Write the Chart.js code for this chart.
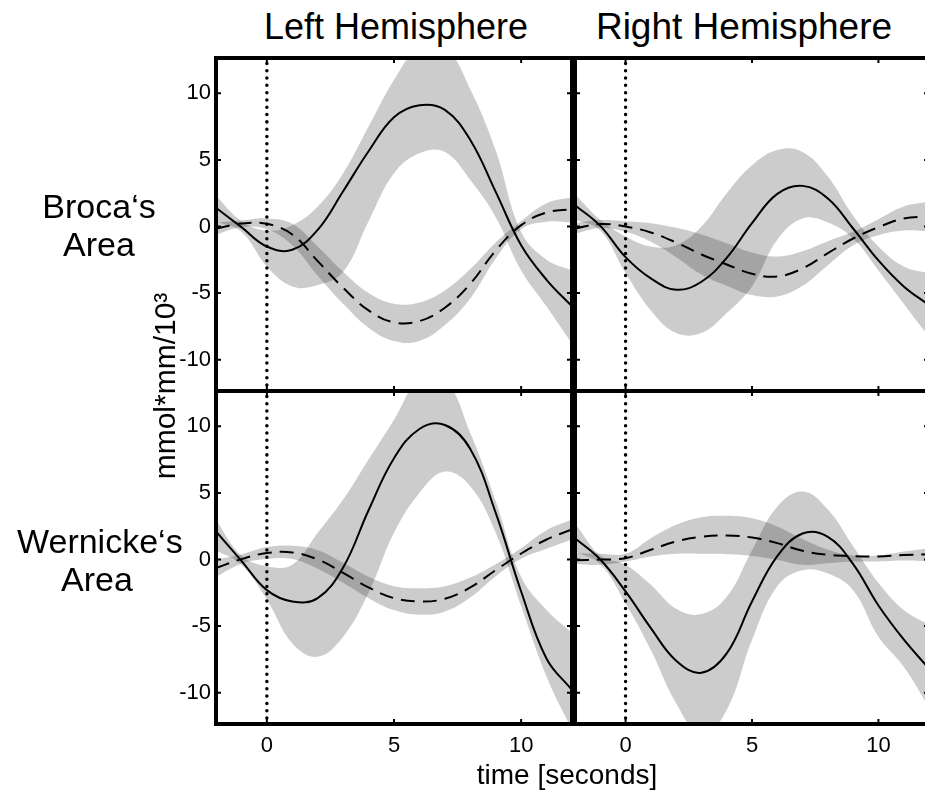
<!DOCTYPE html>
<html>
<head>
<meta charset="utf-8">
<script src="https://cdn.jsdelivr.net/npm/chart.js@4.4.1/dist/chart.umd.min.js"></script>
<style>
html, body { margin: 0; padding: 0; width: 925px; height: 792px; overflow: hidden; background: #fff; }
canvas { position: absolute; }
.txt { position: absolute; font-family: "Liberation Sans", Arial, sans-serif; color: #000; white-space: nowrap; text-align: center; }
</style>
</head>
<body>
<canvas id="brocaLeft" width="441" height="349" style="left:139px;top:50px"></canvas>
<canvas id="brocaRight" width="370" height="349" style="left:567px;top:50px"></canvas>
<canvas id="wernickeLeft" width="441" height="409" style="left:139px;top:383px"></canvas>
<canvas id="wernickeRight" width="370" height="409" style="left:567px;top:383px"></canvas>

<div class="txt" style="left:196px;top:9px;width:400px;font-size:36px;line-height:36px">Left Hemisphere</div>
<div class="txt" style="left:544px;top:9px;width:400px;font-size:37px;line-height:36px">Right Hemisphere</div>
<div class="txt" style="left:19px;top:187px;width:160px;font-size:34px;line-height:38px">Broca‘s<br>Area</div>
<div class="txt" style="left:17px;top:522px;width:160px;font-size:34px;line-height:38px">Wernicke‘s<br>Area</div>
<div class="txt" style="left:15px;top:371px;width:300px;font-size:30px;line-height:30px;transform:rotate(-90deg)">mmol*mm/10³</div>
<div class="txt" style="left:417px;top:761px;width:300px;font-size:28px;line-height:28px">time [seconds]</div>

<script>
// time axis (seconds) and ticks
const times = [-2, -1, 0, 1, 2, 3, 4, 5, 6, 7, 8, 9, 10, 11, 12];
const xTicks = [0, 5, 10];
const yTicks = [-10, -5, 0, 5, 10];
const yMin = -12.35;
const yMax = 12.65;

// Broca, left hemisphere
const brocaLeftSolid = [1.4, -0.05, -1.5, -1.75, -0.25, 2.65, 5.65, 8.2, 9.1, 8.75, 6.5, 2.6, -1.4, -4.0, -6.0];
const brocaLeftSolidLow = [0.4, -0.4, -3.0, -4.5, -4.4, -3.4, 0.4, 4.0, 5.5, 5.6, 3.5, 0.7, -3.3, -6.0, -8.8];
const brocaLeftSolidHigh = [2.3, 0.4, -0.3, 0.1, 1.5, 4.0, 7.5, 11.0, 13.5, 13.5, 10.3, 5.7, -0.4, -2.5, -3.3];
const brocaLeftDashed = [-0.15, 0.22, 0.2, -0.6, -2.6, -4.6, -6.3, -7.2, -7.1, -6.1, -4.3, -1.8, 0.1, 1.05, 1.3];
const brocaLeftDashedLow = [-0.6, -0.05, -0.2, -1.4, -3.7, -5.8, -7.6, -8.6, -8.6, -7.4, -5.4, -2.4, -0.2, 0.35, 0.3];
const brocaLeftDashedHigh = [0.3, 0.45, 0.6, 0.2, -1.5, -3.4, -5.0, -5.8, -5.7, -4.8, -3.2, -1.2, 0.4, 1.75, 2.2];

// Broca, right hemisphere
const brocaRightSolid = [1.6, 0.05, -2.3, -3.9, -4.75, -4.15, -2.35, 0.25, 2.45, 3.05, 2.1, -0.15, -2.55, -4.5, -5.9];
const brocaRightSolidLow = [0.5, -0.3, -3.5, -6.3, -8.0, -8.0, -6.5, -4.5, -1.0, 0.6, 0.3, -0.9, -3.3, -5.8, -8.3];
const brocaRightSolidHigh = [2.4, 0.5, -0.75, -1.5, -1.4, 0.0, 2.5, 4.6, 5.75, 5.6, 3.75, 0.8, -1.5, -3.0, -3.5];
const brocaRightDashed = [-0.15, 0.18, 0.0, -0.45, -1.2, -2.1, -2.85, -3.55, -3.75, -3.15, -2.0, -0.9, -0.05, 0.6, 0.75];
const brocaRightDashedLow = [-0.55, -0.12, -0.4, -1.15, -2.3, -3.6, -4.45, -5.15, -5.25, -4.45, -2.9, -1.4, -0.65, -0.3, -0.35];
const brocaRightDashedHigh = [0.25, 0.48, 0.4, 0.25, -0.1, -0.6, -1.25, -1.95, -2.25, -1.85, -1.1, -0.4, 0.55, 1.5, 1.85];

// Wernicke, left hemisphere
const wernickeLeftSolid = [2.1, -0.1, -2.3, -3.15, -2.9, -0.6, 3.7, 7.6, 9.8, 10.1, 8.3, 3.5, -2.4, -7.45, -9.8];
const wernickeLeftSolidLow = [0.7, -0.4, -3.0, -6.3, -7.3, -5.8, -2.5, 2.0, 5.0, 6.6, 5.5, 2.0, -3.5, -8.8, -12.8];
const wernickeLeftSolidHigh = [2.95, 0.3, -0.5, -0.4, 2.0, 4.5, 7.5, 10.5, 13.5, 13.5, 9.5, 4.4, -1.3, -3.8, -5.5];
const wernickeLeftDashed = [-0.65, 0.03, 0.48, 0.53, 0.0, -1.0, -2.1, -2.9, -3.15, -2.95, -2.1, -0.8, 0.45, 1.5, 2.25];
const wernickeLeftDashedLow = [-1.3, -0.32, 0.03, 0.03, -0.7, -1.75, -2.9, -3.8, -4.15, -3.9, -2.85, -1.25, 0.05, 0.8, 1.5];
const wernickeLeftDashedHigh = [0.0, 0.38, 0.93, 1.03, 0.7, -0.25, -1.3, -2.0, -2.15, -2.0, -1.35, -0.35, 0.85, 2.2, 3.0];

// Wernicke, right hemisphere
const wernickeRightSolid = [1.6, 0.0, -2.4, -5.15, -7.6, -8.5, -7.05, -3.15, 0.25, 1.95, 1.7, -0.35, -3.45, -6.0, -8.2];
const wernickeRightSolidLow = [0.6, -0.35, -3.3, -6.8, -10.8, -13.2, -11.3, -6.05, -2.0, -0.8, -1.05, -2.3, -5.8, -8.05, -11.1];
const wernickeRightSolidHigh = [2.73, 0.3, -0.4, -1.9, -3.7, -4.1, -2.8, 0.7, 3.98, 5.1, 3.75, 1.0, -1.75, -3.8, -4.9];
const wernickeRightDashed = [-0.05, 0.0, 0.1, 0.73, 1.35, 1.7, 1.8, 1.65, 1.23, 0.65, 0.35, 0.25, 0.23, 0.33, 0.4];
const wernickeRightDashedLow = [-0.33, -0.4, -0.15, 0.23, 0.43, 0.43, 0.4, 0.27, -0.02, -0.4, -0.28, -0.15, -0.15, -0.08, -0.15];
const wernickeRightDashedHigh = [0.48, 0.43, 0.43, 1.6, 2.6, 3.18, 3.28, 3.1, 2.48, 1.53, 0.73, 0.3, 0.3, 0.6, 0.85];

// stimulus onset
const onsetX = [0, 0];
const onsetY = [-13, 13];

const bandColor = 'rgba(0,0,0,0.2)';
const noLine = 'rgba(0,0,0,0)';
const fontFamily = '"Liberation Sans", Arial, sans-serif';

function points(xs, ys) {
    return ys.map((v, i) => ({ x: xs[i], y: v }));
}

// frame round each panel with small inward ticks
const framePlugin = {
    id: 'frame',
    afterDatasetsDraw(chart) {
        const ctx = chart.ctx;
        const a = chart.chartArea;
        const xs = chart.scales.x;
        const ys = chart.scales.y;
        ctx.save();
        ctx.strokeStyle = '#000';
        ctx.lineWidth = 2;
        ctx.beginPath();
        xTicks.forEach(v => {
            const px = xs.getPixelForValue(v);
            ctx.moveTo(px, a.top); ctx.lineTo(px, a.top + 5);
            ctx.moveTo(px, a.bottom); ctx.lineTo(px, a.bottom - 5);
        });
        yTicks.forEach(v => {
            const py = ys.getPixelForValue(v);
            ctx.moveTo(a.left, py); ctx.lineTo(a.left + 5, py);
            ctx.moveTo(a.right, py); ctx.lineTo(a.right - 5, py);
        });
        ctx.stroke();
        ctx.lineWidth = 4;
        ctx.strokeRect(a.left, a.top, a.right - a.left, a.bottom - a.top);
        ctx.restore();
    }
};

function makePanel(id, s, showY, showX, padding) {
    new Chart(document.getElementById(id), {
        type: 'line',
        data: {
            datasets: [
                { data: points(times, s.solidLow), borderColor: noLine, fill: false },
                { data: points(times, s.solidHigh), borderColor: noLine, fill: '-1', backgroundColor: bandColor },
                { data: points(times, s.dashedLow), borderColor: noLine, fill: false },
                { data: points(times, s.dashedHigh), borderColor: noLine, fill: '-1', backgroundColor: bandColor },
                { data: points(times, s.solid), borderColor: '#000', borderWidth: 2, fill: false },
                { data: points(times, s.dashed), borderColor: '#000', borderWidth: 2, borderDash: [14, 8], fill: false },
                { data: points(onsetX, onsetY), borderColor: '#000', borderWidth: 3.5, borderDash: [0.01, 7.3],
                  borderCapStyle: 'round', tension: 0, fill: false }
            ]
        },
        options: {
            responsive: false,
            animation: false,
            devicePixelRatio: 1,
            events: [],
            layout: { padding: padding },
            elements: {
                point: { radius: 0 },
                line: { tension: 0.4 }
            },
            plugins: {
                legend: { display: false },
                tooltip: { enabled: false }
            },
            scales: {
                x: {
                    type: 'linear',
                    min: -2,
                    max: 12,
                    display: showX,
                    grid: { display: false, drawTicks: false },
                    border: { display: false },
                    ticks: { color: '#000', font: { family: fontFamily, size: 22 }, padding: 9, maxRotation: 0 },
                    afterBuildTicks: sc => { sc.ticks = xTicks.map(v => ({ value: v })); },
                    afterFit: sc => {
                        sc.paddingLeft = 0;
                        sc.paddingRight = 0;
                        if (showX) sc.height = 68;
                    }
                },
                y: {
                    min: yMin,
                    max: yMax,
                    display: showY,
                    grid: { display: false, drawTicks: false },
                    border: { display: false },
                    ticks: { color: '#000', font: { family: fontFamily, size: 22 }, padding: 5 },
                    afterBuildTicks: sc => { sc.ticks = yTicks.map(v => ({ value: v })); },
                    afterFit: sc => {
                        sc.paddingTop = 0;
                        sc.paddingBottom = 0;
                        if (showY) sc.width = 77;
                    }
                }
            }
        },
        plugins: [framePlugin]
    });
}

makePanel('brocaLeft', {
    solid: brocaLeftSolid, solidLow: brocaLeftSolidLow, solidHigh: brocaLeftSolidHigh,
    dashed: brocaLeftDashed, dashedLow: brocaLeftDashedLow, dashedHigh: brocaLeftDashedHigh
}, true, false, { left: 0, top: 8, right: 8, bottom: 8 });

makePanel('brocaRight', {
    solid: brocaRightSolid, solidLow: brocaRightSolidLow, solidHigh: brocaRightSolidHigh,
    dashed: brocaRightDashed, dashedLow: brocaRightDashedLow, dashedHigh: brocaRightDashedHigh
}, false, false, { left: 8, top: 8, right: 8, bottom: 8 });

makePanel('wernickeLeft', {
    solid: wernickeLeftSolid, solidLow: wernickeLeftSolidLow, solidHigh: wernickeLeftSolidHigh,
    dashed: wernickeLeftDashed, dashedLow: wernickeLeftDashedLow, dashedHigh: wernickeLeftDashedHigh
}, true, true, { left: 0, top: 8, right: 8, bottom: 0 });

makePanel('wernickeRight', {
    solid: wernickeRightSolid, solidLow: wernickeRightSolidLow, solidHigh: wernickeRightSolidHigh,
    dashed: wernickeRightDashed, dashedLow: wernickeRightDashedLow, dashedHigh: wernickeRightDashedHigh
}, false, true, { left: 8, top: 8, right: 8, bottom: 0 });
</script>
</body>
</html>
